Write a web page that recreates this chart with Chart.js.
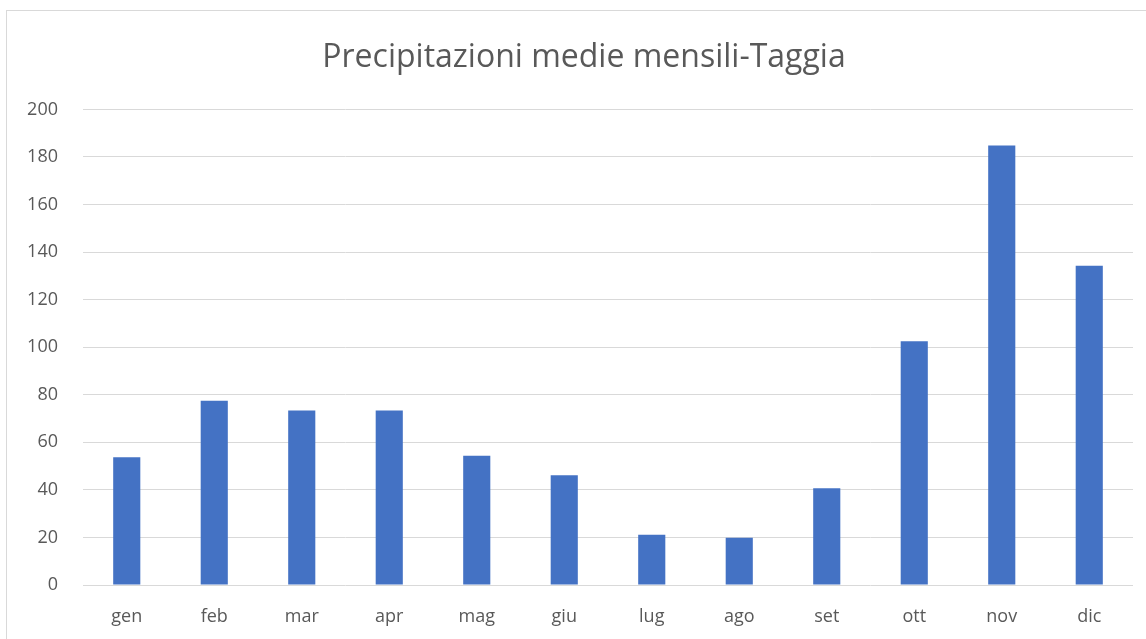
<!DOCTYPE html>
<html lang="it">
<head>
<meta charset="utf-8">
<title>Precipitazioni medie mensili-Taggia</title>
<script src="https://cdn.jsdelivr.net/npm/chart.js@4.4.1/dist/chart.umd.min.js"></script>
<style>
  html, body { margin: 0; padding: 0; background: #fff; overflow: hidden; }
  body { width: 1146px; height: 639px; position: relative; }
  .frame {
    position: absolute; left: 6px; top: 10px; width: 1160px; height: 640px;
    border-left: 1px solid #d9d9d9; border-top: 1px solid #d9d9d9;
    box-sizing: border-box;
  }
  .wrap { position: absolute; left: 0; top: 0; width: 1168px; height: 639px; }
</style>
</head>
<body>
<div class="frame"></div>
<div class="wrap"><canvas id="rainChart"></canvas></div>
<script>
const months = ['gen', 'feb', 'mar', 'apr', 'mag', 'giu', 'lug', 'ago', 'set', 'ott', 'nov', 'dic'];
const rainMm = [53.7, 77.5, 73.4, 73.4, 54.4, 46.2, 21.1, 19.9, 40.7, 102.5, 184.8, 134.3];
const yTicks = [0, 20, 40, 60, 80, 100, 120, 140, 160, 180, 200];

const textColor = '#595959';
const fontFamily = "'Open Sans', 'Liberation Sans', sans-serif";

const chartCanvas = document.getElementById('rainChart');

new Chart(chartCanvas.getContext('2d'), {
  type: 'bar',
  data: {
    labels: months,
    datasets: [
      {
        label: 'Precipitazioni',
        data: rainMm,
        backgroundColor: '#4472c4',
        borderWidth: 0,
        barPercentage: 0.31,
        categoryPercentage: 1,
      },
    ],
  },
  options: {
    responsive: true,
    maintainAspectRatio: false,
    animation: false,
    layout: { padding: 0 },
    scales: {
      x: {
        grid: { display: false },
        border: { display: false },
        ticks: { color: textColor, padding: 13, font: { family: fontFamily, size: 18 } },
        afterFit: (scale) => { scale.height = 54; },
      },
      y: {
        min: 0,
        max: 200,
        afterBuildTicks: (scale) => { scale.ticks = yTicks.map((v) => ({ value: v })); },
        grid: { color: '#d9d9d9', lineWidth: 1, drawTicks: false },
        border: { display: false },
        ticks: { color: textColor, padding: 25, font: { family: fontFamily, size: 18 } },
        afterFit: (scale) => { scale.width = 83; },
      },
      // empty right-hand spacer so the title centres like the original
      spacer: {
        type: 'linear',
        position: 'right',
        grid: { display: false },
        border: { display: false },
        ticks: { display: false },
        afterFit: (scale) => { scale.width = 35; },
      },
    },
    plugins: {
      legend: { display: false },
      tooltip: { enabled: false },
      title: {
        display: true,
        text: 'Precipitazioni medie mensili-Taggia',
        color: textColor,
        font: { family: fontFamily, size: 32, weight: 'normal' },
        padding: { top: 39, bottom: 32 },
      },
    },
  },
});
</script>
</body>
</html>
